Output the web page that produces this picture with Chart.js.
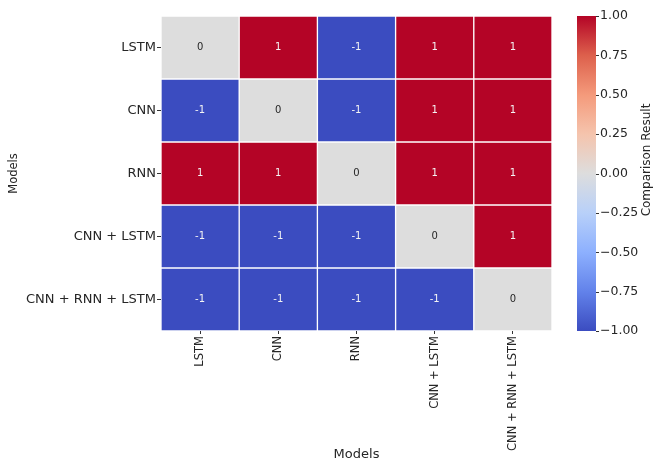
<!DOCTYPE html>
<html>
<head>
<meta charset="utf-8">
<title>Model comparison heatmap</title>
<script src="https://cdn.jsdelivr.net/npm/chart.js@4.4.1/dist/chart.umd.min.js"></script>
<style>
  body { margin: 0; background: #fff; }
  canvas { display: block; }
</style>
</head>
<body>
<canvas id="heatmap" width="654" height="461"></canvas>
<script>
// Data
const models = ['LSTM', 'CNN', 'RNN', 'CNN + LSTM', 'CNN + RNN + LSTM'];
const rowLstm = [0, 1, -1, 1, 1];
const rowCnn = [-1, 0, -1, 1, 1];
const rowRnn = [1, 1, 0, 1, 1];
const rowCnnLstm = [-1, -1, -1, 0, 1];
const rowCnnRnnLstm = [-1, -1, -1, -1, 0];
const comparison = [rowLstm, rowCnn, rowRnn, rowCnnLstm, rowCnnRnnLstm];
const colorbarTicks = [-1, -0.75, -0.5, -0.25, 0, 0.25, 0.5, 0.75, 1];

// coolwarm colormap stops
const coolwarm = [
  [0.0, [59, 76, 192]],
  [0.125, [98, 130, 234]],
  [0.25, [141, 176, 254]],
  [0.375, [184, 208, 249]],
  [0.5, [221, 221, 221]],
  [0.625, [245, 196, 173]],
  [0.75, [244, 154, 123]],
  [0.875, [221, 96, 76]],
  [1.0, [180, 4, 38]]
];

function colorFor(v) {
  const t = (v + 1) / 2;
  for (let i = 1; i < coolwarm.length; i++) {
    const [t1, c1] = coolwarm[i];
    const [t0, c0] = coolwarm[i - 1];
    if (t <= t1) {
      const f = (t - t0) / (t1 - t0);
      const c = c0.map((x, k) => Math.round(x + (c1[k] - x) * f));
      return `rgb(${c[0]},${c[1]},${c[2]})`;
    }
  }
  return 'rgb(180,4,38)';
}

const datasets = comparison.map((row, r) => ({
  label: models[r],
  data: row.map(() => [r, r + 1]),
  values: row,
  backgroundColor: row.map(colorFor),
  borderColor: '#ffffff',
  borderWidth: 1,
  borderSkipped: false,
  grouped: false,
  barPercentage: 1,
  categoryPercentage: 1
}));

// cell annotations + colorbar
const heatExtras = {
  id: 'heatExtras',
  afterDatasetsDraw(chart) {
    const ctx = chart.ctx;
    ctx.save();
    ctx.font = '10px "DejaVu Sans"';
    ctx.textAlign = 'center';
    ctx.textBaseline = 'middle';
    chart.data.datasets.forEach((ds, di) => {
      chart.getDatasetMeta(di).data.forEach((bar, i) => {
        const v = ds.values[i];
        ctx.fillStyle = v === 0 ? '#262626' : '#f4f4f4';
        ctx.fillText(String(v), bar.x, (bar.y + bar.base) / 2);
      });
    });

    // colorbar
    const cb = chart.scales.cb;
    const x0 = chart.chartArea.right + 25;
    const w = 19;
    const yTop = cb.getPixelForValue(1);
    const yBot = cb.getPixelForValue(-1);
    const grad = ctx.createLinearGradient(0, yBot, 0, yTop);
    coolwarm.forEach(([t]) => grad.addColorStop(t, colorFor(t * 2 - 1)));
    ctx.fillStyle = grad;
    ctx.fillRect(x0, yTop, w, yBot - yTop);
    ctx.strokeStyle = '#333';
    ctx.lineWidth = 1;
    colorbarTicks.forEach(t => {
      const y = Math.round(cb.getPixelForValue(t)) + 0.5;
      ctx.beginPath();
      ctx.moveTo(x0 + w, y);
      ctx.lineTo(x0 + w + 3, y);
      ctx.stroke();
    });

    // colorbar label
    ctx.translate(647, 160);
    ctx.rotate(-Math.PI / 2);
    ctx.fillStyle = '#262626';
    ctx.font = '12px "DejaVu Sans"';
    ctx.fillText('Comparison Result', 0, 0);
    ctx.restore();
  }
};

const chart = new Chart(document.getElementById('heatmap'), {
  type: 'bar',
  data: { labels: models, datasets: datasets },
  plugins: [heatExtras],
  options: {
    responsive: false,
    animation: false,
    layout: { padding: { top: 16, left: 0, right: 0, bottom: 0 } },
    plugins: {
      legend: { display: false },
      tooltip: { enabled: false }
    },
    scales: {
      x: {
        type: 'category',
        afterFit: s => { s.height = 130; },
        grid: { drawOnChartArea: false, offset: false, tickLength: 3, color: '#333' },
        border: { display: false },
        ticks: {
          color: '#262626',
          font: { family: 'DejaVu Sans', size: 11.5 },
          minRotation: 90,
          maxRotation: 90,
          padding: 2
        },
        title: {
          display: true,
          text: 'Models',
          color: '#262626',
          font: { family: 'DejaVu Sans', size: 13, lineHeight: 1 },
          padding: { top: 0, bottom: 0 }
        }
      },
      y: {
        type: 'linear',
        min: 0,
        max: 5,
        reverse: true,
        afterFit: s => { s.width = 161; },
        afterBuildTicks: s => { s.ticks = [0.5, 1.5, 2.5, 3.5, 4.5].map(v => ({ value: v })); },
        grid: { drawOnChartArea: false, tickLength: 4, color: '#333' },
        border: { display: false },
        ticks: {
          color: '#262626',
          font: { family: 'DejaVu Sans', size: 13 },
          padding: 1,
          callback: (v, i) => models[i]
        },
        title: {
          display: true,
          text: 'Models',
          color: '#262626',
          font: { family: 'DejaVu Sans', size: 11.5 },
          padding: { top: 7, bottom: 0 }
        }
      },
      cb: {
        type: 'linear',
        position: 'right',
        min: -1,
        max: 1,
        afterFit: s => { s.width = 102; s.paddingTop = 0; s.paddingBottom = 0; },
        afterBuildTicks: s => { s.ticks = colorbarTicks.map(v => ({ value: v })); },
        grid: { display: false, drawTicks: false },
        border: { display: false },
        ticks: {
          color: '#262626',
          font: { family: 'DejaVu Sans', size: 12.5 },
          padding: 48,
          callback: v => v.toFixed(2).replace('-', '\u2212')
        }
      }
    }
  }
});
</script>
</body>
</html>
